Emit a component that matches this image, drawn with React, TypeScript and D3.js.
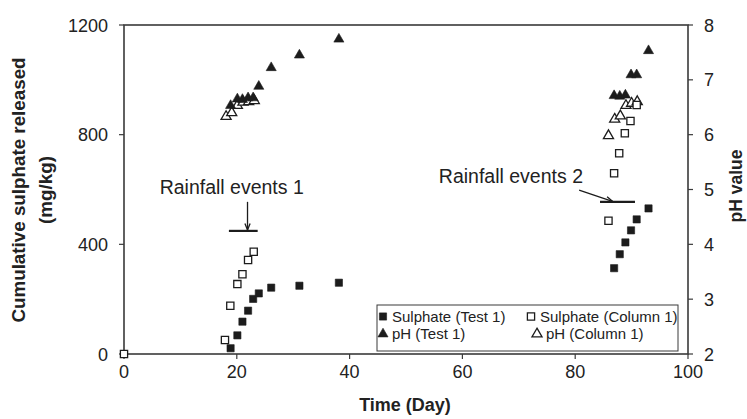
import React from "react";
import * as d3 from "d3";

// Sulphate released, Test 1 (mg/kg)
const sulphateTestDays = [18.9, 20.1, 21.0, 22.0, 22.9, 23.9, 26.1, 31.1, 38.1, 86.9, 87.9, 88.9, 89.9, 90.9, 93.0];
const sulphateTestValues = [21, 68, 118, 158, 201, 221, 242, 249, 260, 313, 364, 407, 451, 491, 531];

// Sulphate released, Column 1 (mg/kg)
const sulphateColumnDays = [0, 17.9, 18.85, 20.1, 21.0, 22.0, 23.0, 85.9, 86.9, 87.8, 88.8, 89.8, 90.9];
const sulphateColumnValues = [0, 51, 176, 255, 291, 343, 373, 486, 659, 732, 805, 850, 908];

// pH, Test 1
const phTestDays = [18.9, 20.1, 21.0, 22.0, 22.9, 23.9, 26.1, 31.1, 38.1, 86.9, 87.9, 88.9, 89.9, 90.9, 93.0];
const phTestValues = [6.54, 6.66, 6.65, 6.68, 6.68, 6.89, 7.23, 7.46, 7.75, 6.72, 6.71, 6.73, 7.1, 7.1, 7.54];

// pH, Column 1
const phColumnDays = [18.1, 19.1, 20.1, 21.1, 22.1, 23.1, 85.9, 87.0, 88.0, 89.0, 90.0, 91.0];
const phColumnValues = [6.34, 6.41, 6.54, 6.6, 6.61, 6.63, 5.99, 6.29, 6.35, 6.54, 6.58, 6.61];

const xTicks = [0, 20, 40, 60, 80, 100];
const sulphateTicks = [0, 400, 800, 1200];
const phTicks = [2, 3, 4, 5, 6, 7, 8];

// Rainfall event markers: [bar start day, bar end day, bar level (mg/kg)]
const rainfall1Bar = [18.6, 23.7, 449];
const rainfall1Arrow = [21.9, 555]; // arrow tail (day, mg/kg), head lands on bar
const rainfall1Label = "Rainfall events 1";
const rainfall1LabelAt = [19.1, 585];

const rainfall2Bar = [84.4, 90.6, 555];
const rainfall2ArrowFrom = [80.7, 598];
const rainfall2ArrowTo = [86.6, 557];
const rainfall2Label = "Rainfall events 2";
const rainfall2LabelAt = [68.6, 625];

const legendLabels = ["Sulphate (Test 1)", "Sulphate (Column 1)", "pH (Test 1)", "pH (Column 1)"];

const W = 747;
const H = 419;
const plot = { left: 124, right: 688, top: 25, bottom: 354 };
const ink = "#1c1c1c";
const axisColor = "#3a3a3a";
const font = "'Liberation Sans', Arial, Helvetica, sans-serif";

const x = d3.scaleLinear().domain([0, 100]).range([plot.left, plot.right]);
const ySul = d3.scaleLinear().domain([0, 1200]).range([plot.bottom, plot.top]);
const yPh = d3.scaleLinear().domain([2, 8]).range([plot.bottom, plot.top]);

const squarePath = d3.symbol().type(d3.symbolSquare).size(52)()!;
const trianglePath = d3.symbol().type(d3.symbolTriangle).size(44)()!;

function Marker({ cx, cy, kind, filled }: { cx: number; cy: number; kind: "sq" | "tri"; filled: boolean }) {
  return (
    <path
      d={kind === "sq" ? squarePath : trianglePath}
      transform={`translate(${cx},${cy + (kind === "tri" ? 0.5 : 0)})`}
      fill={filled ? ink : "#fff"}
      stroke={ink}
      strokeWidth={filled ? 0.6 : 1.3}
    />
  );
}

export default function App() {
  const arrowHead = (x1: number, y1: number, x2: number, y2: number) => {
    const a = Math.atan2(y2 - y1, x2 - x1);
    const len = 7;
    const spread = 0.38;
    const p1 = [x2 - len * Math.cos(a - spread), y2 - len * Math.sin(a - spread)];
    const p2 = [x2 - len * Math.cos(a + spread), y2 - len * Math.sin(a + spread)];
    return `M${p1[0]},${p1[1]}L${x2},${y2}L${p2[0]},${p2[1]}`;
  };

  const a1x = x(rainfall1Arrow[0]);
  const a1y0 = ySul(rainfall1Arrow[1]);
  const a1y1 = ySul(rainfall1Bar[2]) - 1;
  const a2x0 = x(rainfall2ArrowFrom[0]);
  const a2y0 = ySul(rainfall2ArrowFrom[1]);
  const a2x1 = x(rainfall2ArrowTo[0]);
  const a2y1 = ySul(rainfall2ArrowTo[1]);

  const lg = { left: 377, top: 305, right: 678, bottom: 351 };
  const legendRows = [316.5, 333.5];
  const legendCols = [383, 531];

  return (
    <svg
      width={W}
      height={H}
      viewBox={`0 0 ${W} ${H}`}
      style={{ position: "absolute", left: 0, top: 0, background: "#fff" }}
      fontFamily={font}
    >
      <rect width={W} height={H} fill="#fff" />

      {/* x ticks */}
      {xTicks.map((t) => (
        <g key={`xt${t}`}>
          <line x1={x(t)} x2={x(t)} y1={plot.bottom} y2={plot.bottom + 5} stroke={axisColor} strokeWidth={1.2} />
          <text x={x(t)} y={378} textAnchor="middle" fontSize={18} fill="#222">
            {t}
          </text>
        </g>
      ))}

      {/* left ticks */}
      {sulphateTicks.map((t) => (
        <g key={`yl${t}`}>
          <line x1={plot.left - 5} x2={plot.left} y1={ySul(t)} y2={ySul(t)} stroke={axisColor} strokeWidth={1.2} />
          <text x={108} y={ySul(t) + 6.5} textAnchor="end" fontSize={18} fill="#222">
            {t}
          </text>
        </g>
      ))}

      {/* right ticks */}
      {phTicks.map((t) => (
        <g key={`yr${t}`}>
          <line x1={plot.right} x2={plot.right + 5} y1={yPh(t)} y2={yPh(t)} stroke={axisColor} strokeWidth={1.2} />
          <text x={704} y={yPh(t) + 6.5} textAnchor="start" fontSize={18} fill="#222">
            {t}
          </text>
        </g>
      ))}

      {/* frame */}
      <rect
        x={plot.left}
        y={plot.top}
        width={plot.right - plot.left}
        height={plot.bottom - plot.top}
        fill="none"
        stroke={axisColor}
        strokeWidth={1.6}
      />

      {/* axis titles */}
      <text x={405} y={411} textAnchor="middle" fontSize={18} fontWeight="bold" fill="#222">
        Time (Day)
      </text>
      <g transform={`translate(25,190) rotate(-90)`}>
        <text x={0} y={0} textAnchor="middle" fontSize={18.8} fontWeight="bold" fill="#222">
          Cumulative sulphate released
        </text>
        <text x={0} y={27} textAnchor="middle" fontSize={18.8} fontWeight="bold" fill="#222">
          (mg/kg)
        </text>
      </g>
      <text
        transform={`translate(742,186) rotate(-90)`}
        textAnchor="middle"
        fontSize={17.5}
        fontWeight="bold"
        fill="#222"
      >
        pH value
      </text>

      {/* rainfall annotations */}
      <text x={x(rainfall1LabelAt[0])} y={ySul(rainfall1LabelAt[1])} textAnchor="middle" fontSize={19.5} fill="#222">
        {rainfall1Label}
      </text>
      <line x1={x(rainfall1Bar[0])} x2={x(rainfall1Bar[1])} y1={ySul(rainfall1Bar[2])} y2={ySul(rainfall1Bar[2])} stroke={ink} strokeWidth={2.2} />
      <line x1={a1x} x2={a1x} y1={a1y0} y2={a1y1} stroke={ink} strokeWidth={1.3} />
      <path d={arrowHead(a1x, a1y0, a1x, a1y1)} fill="none" stroke={ink} strokeWidth={1.3} />

      <text x={x(rainfall2LabelAt[0])} y={ySul(rainfall2LabelAt[1])} textAnchor="middle" fontSize={19.5} fill="#222">
        {rainfall2Label}
      </text>
      <line x1={x(rainfall2Bar[0])} x2={x(rainfall2Bar[1])} y1={ySul(rainfall2Bar[2])} y2={ySul(rainfall2Bar[2])} stroke={ink} strokeWidth={2.2} />
      <line x1={a2x0} x2={a2x1} y1={a2y0} y2={a2y1} stroke={ink} strokeWidth={1.3} />
      <path d={arrowHead(a2x0, a2y0, a2x1, a2y1)} fill="none" stroke={ink} strokeWidth={1.3} />

      {/* series */}
      {phColumnDays.map((d, i) => (
        <Marker key={`pc${i}`} cx={x(d)} cy={yPh(phColumnValues[i])} kind="tri" filled={false} />
      ))}
      {phTestDays.map((d, i) => (
        <Marker key={`pt${i}`} cx={x(d)} cy={yPh(phTestValues[i])} kind="tri" filled={true} />
      ))}
      {sulphateColumnDays.map((d, i) => (
        <Marker key={`sc${i}`} cx={x(d)} cy={ySul(sulphateColumnValues[i])} kind="sq" filled={false} />
      ))}
      {sulphateTestDays.map((d, i) => (
        <Marker key={`st${i}`} cx={x(d)} cy={ySul(sulphateTestValues[i])} kind="sq" filled={true} />
      ))}

      {/* legend */}
      <rect x={lg.left} y={lg.top} width={lg.right - lg.left} height={lg.bottom - lg.top} fill="#fff" stroke={axisColor} strokeWidth={1} />
      <Marker cx={legendCols[0]} cy={legendRows[0]} kind="sq" filled={true} />
      <text x={legendCols[0] + 9} y={legendRows[0] + 5} fontSize={15} fill="#222">{legendLabels[0]}</text>
      <Marker cx={legendCols[1]} cy={legendRows[0]} kind="sq" filled={false} />
      <text x={legendCols[1] + 9} y={legendRows[0] + 5} fontSize={15} fill="#222">{legendLabels[1]}</text>
      <Marker cx={legendCols[0]} cy={legendRows[1]} kind="tri" filled={true} />
      <text x={legendCols[0] + 9} y={legendRows[1] + 5} fontSize={15} fill="#222">{legendLabels[2]}</text>
      <Marker cx={legendCols[1] + 6} cy={legendRows[1]} kind="tri" filled={false} />
      <text x={legendCols[1] + 15} y={legendRows[1] + 5} fontSize={15} fill="#222">{legendLabels[3]}</text>
    </svg>
  );
}
